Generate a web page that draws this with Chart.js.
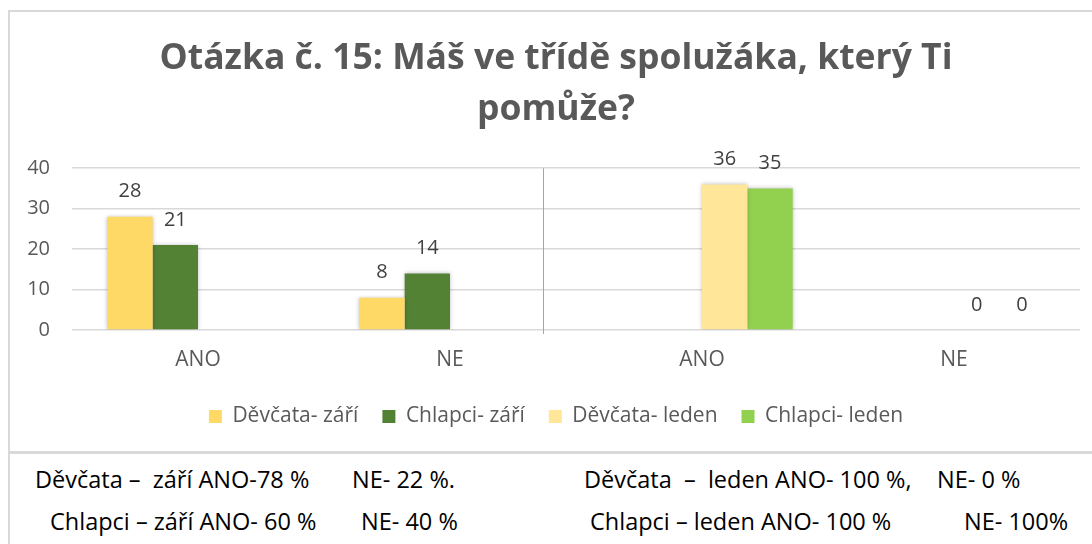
<!DOCTYPE html>
<html>
<head>
<meta charset="utf-8">
<script src="https://cdn.jsdelivr.net/npm/chart.js@4"></script>
<style>
  body { margin: 0; width: 1092px; height: 544px; overflow: hidden; background: #fff; position: relative; }
  #frame { position: absolute; left: 8px; top: 10px; width: 1200px; height: 600px; border: 2px solid #d9d9d9; box-sizing: border-box; }
  #wrap { position: absolute; left: 10px; top: 12px; width: 1108px; height: 439px; }
  #sep { position: absolute; left: 8px; top: 451px; width: 1200px; height: 3px; background: #d9d9d9; }
  .note { position: absolute; font-family: "Open Sans", sans-serif; font-size: 23.5px; color: #000; white-space: pre; line-height: 28px; }
</style>
</head>
<body>
<div id="frame"></div>
<div id="wrap"><canvas id="chart"></canvas></div>
<div id="sep"></div>
<div class="note" style="left:35px; top:465px;">Děvčata –  září ANO-78 %</div>
<div class="note" style="left:352px; top:465px;">NE- 22 %.</div>
<div class="note" style="left:584px; top:465px;">Děvčata  –  leden ANO- 100 %,</div>
<div class="note" style="left:937px; top:465px;">NE- 0 %</div>
<div class="note" style="left:50px; top:507px;">Chlapci – září ANO- 60 %</div>
<div class="note" style="left:361px; top:507px;">NE- 40 %</div>
<div class="note" style="left:590px; top:507px;">Chlapci – leden ANO- 100 %</div>
<div class="note" style="left:964px; top:507px;">NE- 100%</div>
<script>
// data
const categories = ['ANO', 'NE', 'ANO', 'NE'];
const divcataZari = [28, 8, null, null];
const chlapciZari = [21, 14, null, null];
const divcataLeden = [null, null, 36, 0];
const chlapciLeden = [null, null, 35, 0];
const yTicks = [0, 10, 20, 30, 40];

const font = '"Open Sans", sans-serif';
const separatorAt = 1.37; // svislá čára mezi září a leden (v jednotkách kategorií)

// hodnoty nad sloupci
const valueLabels = {
  id: 'valueLabels',
  afterDatasetsDraw(chart) {
    const ctx = chart.ctx;
    ctx.save();
    ctx.font = '20px ' + font;
    ctx.fillStyle = '#404040';
    ctx.textAlign = 'center';
    ctx.textBaseline = 'middle';
    chart.data.datasets.forEach((ds, i) => {
      chart.getDatasetMeta(i).data.forEach((bar, j) => {
        if (ds.data[j] === null) return;
        ctx.fillText(ds.data[j], bar.x, bar.y - 25);
      });
    });
    ctx.restore();
  }
};

// stín sloupců + svislý oddělovač
const extras = {
  id: 'extras',
  beforeDatasetsDraw(chart) {
    const ctx = chart.ctx;
    const x = chart.scales.x.getPixelForValue(separatorAt);
    const y = chart.scales.y;
    ctx.save();
    ctx.strokeStyle = '#a6a6a6';
    ctx.lineWidth = 1;
    ctx.beginPath();
    ctx.moveTo(Math.round(x) + 0.5, y.getPixelForValue(40));
    ctx.lineTo(Math.round(x) + 0.5, y.getPixelForValue(0) + 4);
    ctx.stroke();
    ctx.restore();
    ctx.save();
    ctx.shadowColor = 'rgba(0,0,0,0.25)';
    ctx.shadowBlur = 4;
  },
  afterDatasetsDraw(chart) {
    chart.ctx.restore();
  }
};

new Chart(document.getElementById('chart'), {
  type: 'bar',
  data: {
    labels: categories,
    datasets: [
      { label: 'Děvčata- září', data: divcataZari, backgroundColor: '#ffd966' },
      { label: 'Chlapci- září', data: chlapciZari, backgroundColor: '#548235' },
      { label: 'Děvčata- leden', data: divcataLeden, backgroundColor: '#ffe699' },
      { label: 'Chlapci- leden', data: chlapciLeden, backgroundColor: '#92d050' },
    ],
  },
  options: {
    responsive: true,
    maintainAspectRatio: false,
    animation: false,
    categoryPercentage: 0.72,
    barPercentage: 1,
    layout: { padding: { left: 0, right: 16, top: 0, bottom: 14 } },
    plugins: {
      title: {
        display: true,
        text: ['Otázka č. 15: Máš ve třídě spolužáka, který Ti', 'pomůže?'],
        color: '#595959',
        font: { family: font, size: 35.5, weight: 'bold', lineHeight: 1.44 },
        padding: { top: 21, bottom: 33 },
      },
      legend: {
        position: 'bottom',
        labels: {
          color: '#595959',
          font: { family: font, size: 21 },
          boxWidth: 13,
          boxHeight: 13,
          padding: 24,
        },
      },
      tooltip: { enabled: false },
    },
    scales: {
      x: {
        grid: { display: false },
        border: { display: false },
        ticks: { color: '#595959', font: { family: font, size: 21, lineHeight: '20px' }, padding: 12 },
      },
      y: {
        min: 0,
        max: 40,
        afterFit: (s) => { s.width = 62; },
        afterBuildTicks: (s) => { s.ticks = yTicks.map((v) => ({ value: v })); },
        grid: { color: '#d9d9d9', lineWidth: 1.5, drawTicks: false },
        border: { display: false },
        ticks: { color: '#595959', font: { family: font, size: 20 }, padding: 22 },
      },
      // prázdná pravá osa, jen aby nadpis a legenda byly vystředěné jako v originále
      y2: {
        position: 'right',
        afterFit: (s) => { s.width = 22; },
        grid: { display: false },
        border: { display: false },
        ticks: { display: false },
      },
    },
  },
  plugins: [extras, valueLabels],
});
</script>
</body>
</html>
